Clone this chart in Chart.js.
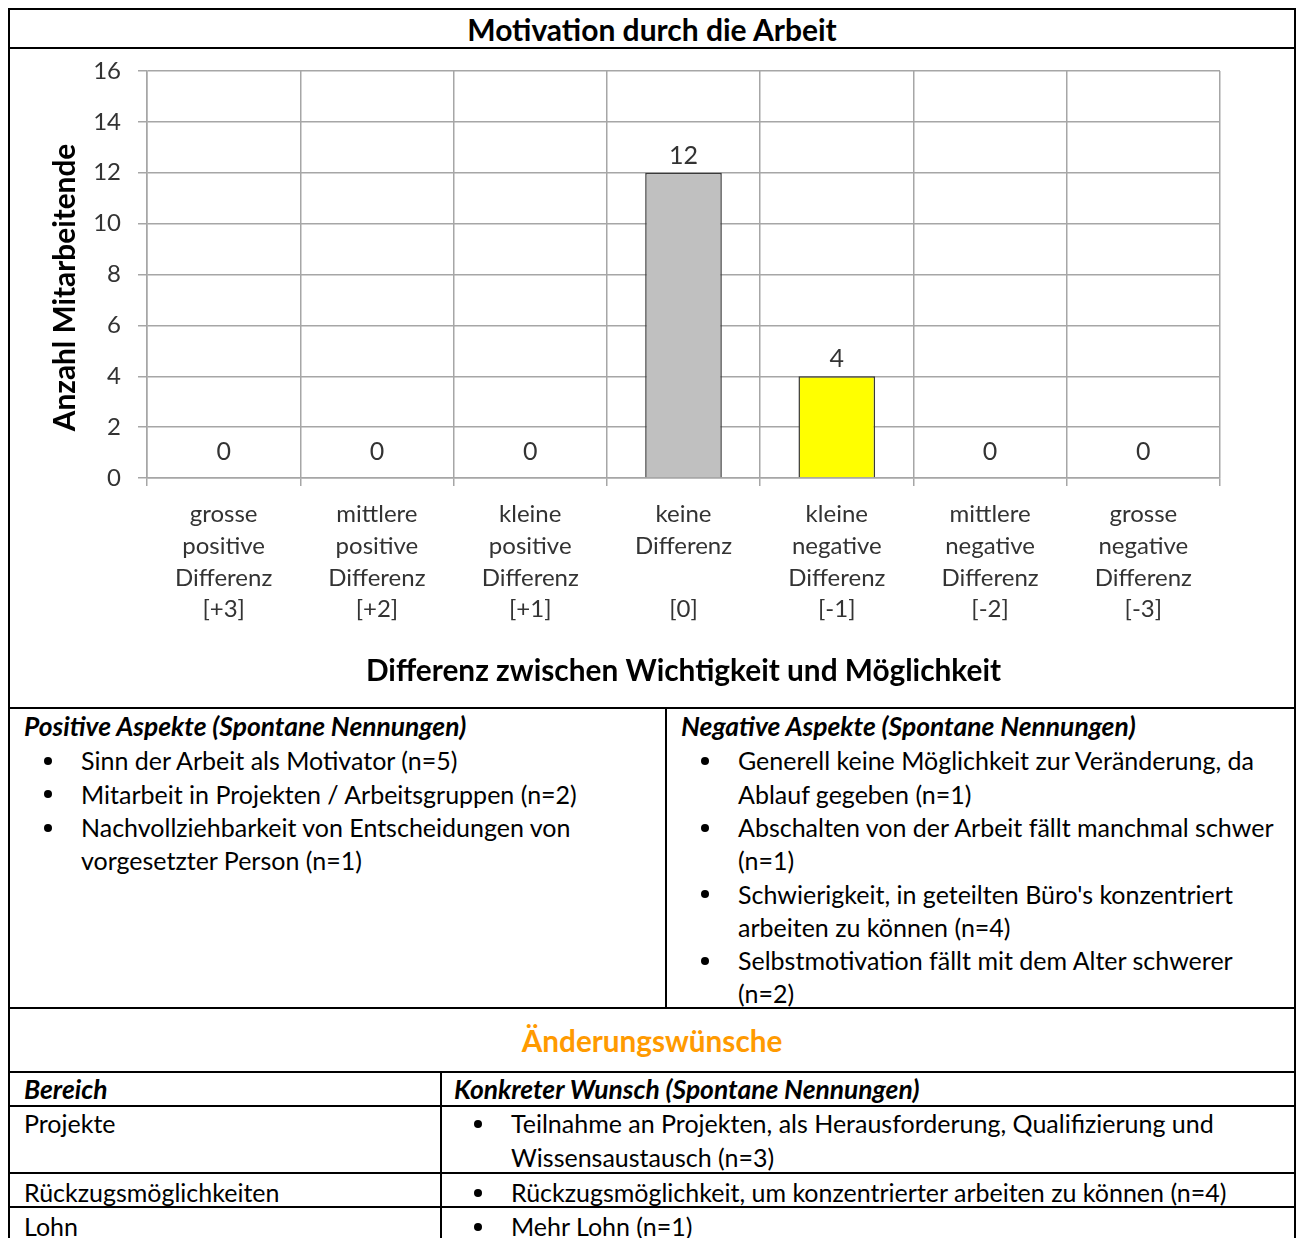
<!DOCTYPE html>
<html lang="de">
<head>
<meta charset="utf-8">
<title>Motivation durch die Arbeit</title>
<script src="https://cdn.jsdelivr.net/npm/chart.js@4.4.1/dist/chart.umd.min.js"></script>
<style>
  html, body { margin: 0; padding: 0; background: #fff; }
  #page { position: relative; width: 1297px; height: 1238px; overflow: hidden;
          font-family: Lato, "Open Sans", sans-serif; color: #000; }
  .ln  { position: absolute; background: #000; }
  .t   { position: absolute; white-space: nowrap; font-size: 25px; line-height: 33.3px; }
  .hd  { font-weight: bold; font-style: italic; font-size: 26.4px; }
  .ttl { font-weight: bold; font-size: 30px; transform: translateX(-50%); }
  .dot { position: absolute; width: 8px; height: 8px; border-radius: 50%; background: #000; }
  #chartBox { position: absolute; left: 10px; top: 49px; width: 1284px; height: 658px; }
</style>
</head>
<body>
<div id="page">
  <div id="chartBox"><canvas id="chart" width="1284" height="658"></canvas></div>
</div>
<script>
// ---- chart data ----
const categories = [
  ['grosse', 'positive', 'Differenz', '[+3]'],
  ['mittlere', 'positive', 'Differenz', '[+2]'],
  ['kleine', 'positive', 'Differenz', '[+1]'],
  ['keine', 'Differenz', '', '[0]'],
  ['kleine', 'negative', 'Differenz', '[-1]'],
  ['mittlere', 'negative', 'Differenz', '[-2]'],
  ['grosse', 'negative', 'Differenz', '[-3]']
];
const counts = [0, 0, 0, 12, 4, 0, 0];
const barColors = ['#00b050', '#92d050', '#c4e59f', '#c0c0c0', '#ffff00', '#ffc000', '#ff0000'];
const yRange = [0, 16];
const yStep = 2;

const chartTitle = 'Motivation durch die Arbeit';
const xTitle = 'Differenz zwischen Wichtigkeit und Möglichkeit';
const yTitle = 'Anzahl Mitarbeitende';

// ---- text blocks ----
const positiveAspects = [
  ['Sinn der Arbeit als Motivator (n=5)'],
  ['Mitarbeit in Projekten / Arbeitsgruppen (n=2)'],
  ['Nachvollziehbarkeit von Entscheidungen von', 'vorgesetzter Person (n=1)']
];
const negativeAspects = [
  ['Generell keine Möglichkeit zur Veränderung, da', 'Ablauf gegeben (n=1)'],
  ['Abschalten von der Arbeit fällt manchmal schwer', '(n=1)'],
  ["Schwierigkeit, in geteilten Büro's konzentriert", 'arbeiten zu können (n=4)'],
  ['Selbstmotivation fällt mit dem Alter schwerer', '(n=2)']
];
const wishes = [
  { area: 'Projekte', lines: ['Teilnahme an Projekten, als Herausforderung, Qualifizierung und', 'Wissensaustausch (n=3)'] },
  { area: 'Rückzugsmöglichkeiten', lines: ['Rückzugsmöglichkeit, um konzentrierter arbeiten zu können (n=4)'] },
  { area: 'Lohn', lines: ['Mehr Lohn (n=1)'] }
];

// ---- page layout helpers ----
const page = document.getElementById('page');
const LH = 33.3;

function rule(x, y, w, h) {
  const d = document.createElement('div');
  d.className = 'ln';
  Object.assign(d.style, { left: x + 'px', top: y + 'px', width: w + 'px', height: h + 'px' });
  page.appendChild(d);
}
function text(x, yc, str, cls, style) {
  const d = document.createElement('div');
  d.className = 't' + (cls ? ' ' + cls : '');
  d.textContent = str;
  d.style.left = x + 'px';
  d.style.top = (yc - LH / 2) + 'px';
  if (style) Object.assign(d.style, style);
  page.appendChild(d);
  return d;
}
function bulletList(bx, tx, yc, items) {
  let y = yc;
  items.forEach(lines => {
    const dot = document.createElement('div');
    dot.className = 'dot';
    dot.style.left = (bx - 4) + 'px';
    dot.style.top = (y - 4) + 'px';
    page.appendChild(dot);
    lines.forEach(l => { text(tx, y, l); y += LH; });
  });
}

// frame and table rules
rule(8, 8, 1288, 2);          // top
rule(8, 8, 2, 1240);          // left
rule(1294, 8, 2, 1240);       // right
rule(8, 47, 1288, 2);         // under title
rule(8, 707, 1288, 2);        // under chart
rule(665, 707, 2, 302);       // aspects divider
rule(8, 1007, 1288, 2);       // under aspects
rule(8, 1071, 1288, 2);       // under wishes title
rule(440, 1071, 2, 200);      // wishes divider
rule(8, 1105, 1288, 2);
rule(8, 1172, 1288, 2);
rule(8, 1206, 1288, 2);

// titles
text(652, 30, chartTitle, 'ttl');
text(652, 1041, 'Änderungswünsche', 'ttl', { color: '#ff9a00', fontSize: '29.7px' });

// aspects
text(24, 727, 'Positive Aspekte (Spontane Nennungen)', 'hd');
bulletList(48, 81, 761, positiveAspects);
text(681, 727, 'Negative Aspekte (Spontane Nennungen)', 'hd');
bulletList(705, 738, 761, negativeAspects);

// wishes table
text(24, 1090, 'Bereich', 'hd');
text(454, 1090, 'Konkreter Wunsch (Spontane Nennungen)', 'hd');
const rowCenters = [1124, 1193, 1227];
wishes.forEach((w, i) => {
  text(24, rowCenters[i], w.area);
  bulletList(478, 511, rowCenters[i], [w.lines]);
});

// ---- chart ----
const GRID = '#a6a6a6';
const INK = '#333333';

const valueLabels = {
  id: 'valueLabels',
  afterDatasetsDraw(chart) {
    const { ctx } = chart;
    const data = chart.data.datasets[0].data;
    ctx.save();
    ctx.font = '25px Lato';
    ctx.fillStyle = INK;
    ctx.textAlign = 'center';
    ctx.textBaseline = 'middle';
    chart.getDatasetMeta(0).data.forEach((bar, i) => {
      const gap = data[i] === 0 ? 26 : 17;
      ctx.fillText(String(data[i]), bar.x, bar.y - gap);
    });
    ctx.restore();
  }
};

const axisTitles = {
  id: 'axisTitles',
  afterDraw(chart) {
    const { ctx, chartArea: a } = chart;
    ctx.save();
    ctx.font = 'bold 29.8px Lato';
    ctx.fillStyle = '#000';
    ctx.textAlign = 'center';
    ctx.textBaseline = 'middle';
    ctx.fillText(xTitle, (a.left + a.right) / 2, a.bottom + 193);
    ctx.translate(55, (a.top + a.bottom) / 2 + 13);
    ctx.rotate(-Math.PI / 2);
    ctx.fillText(yTitle, 0, 0);
    ctx.restore();
  }
};

new Chart(document.getElementById('chart'), {
  type: 'bar',
  data: {
    labels: categories,
    datasets: [{
      data: counts,
      backgroundColor: barColors,
      borderColor: '#3a3a3a',
      borderWidth: c => (counts[c.dataIndex] ? 1.5 : 0),
      barPercentage: 0.5,
      categoryPercentage: 1
    }]
  },
  options: {
    responsive: false,
    animation: false,
    devicePixelRatio: 1,
    layout: { padding: { top: 22, right: 74, left: 0, bottom: 0 } },
    plugins: { legend: { display: false }, tooltip: { enabled: false } },
    scales: {
      x: {
        grid: { color: GRID, lineWidth: 1.5, tickLength: 8, offset: true },
        border: { color: GRID, width: 1.5 },
        ticks: { font: { family: 'Lato', size: 24, lineHeight: 1.33 }, color: INK,
                 padding: 12, maxRotation: 0, autoSkip: false },
        afterFit(s) { s.height = 229; }
      },
      y: {
        min: yRange[0], max: yRange[1],
        grid: { color: GRID, lineWidth: 1.5, tickLength: 9 },
        border: { color: GRID, width: 1.5 },
        ticks: { stepSize: yStep, font: { family: 'Lato', size: 24 }, color: INK, padding: 17 },
        afterFit(s) { s.width = 137; s.paddingTop = 0; s.paddingBottom = 0; }
      }
    }
  },
  plugins: [valueLabels, axisTitles]
});
</script>
</body>
</html>
